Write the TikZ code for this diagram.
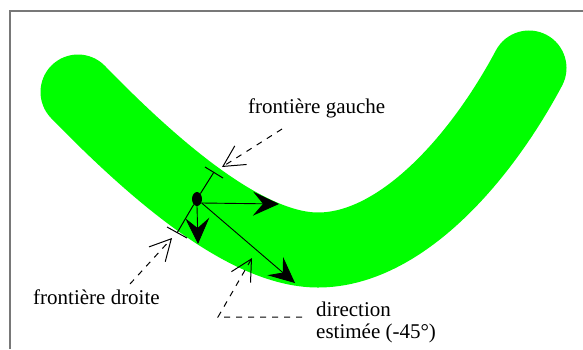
\documentclass[tikz,border=0pt]{standalone}
\usepackage{fontspec}
\setmainfont{Liberation Serif}
\usetikzlibrary{arrows.meta,shapes.geometric}
\definecolor{bandgreen}{RGB}{0,255,0}
\definecolor{framegray}{RGB}{120,120,120}
\begin{document}
\begin{tikzpicture}[x=1pt,y=-1pt,
  lbl/.style={font=\fontsize{21}{22}\selectfont, inner sep=0pt, align=left},
  bigarrow/.style={line width=0.9pt, -{Stealth[length=26pt,width=24pt,inset=10pt]}},
  callout/.style={line width=1pt, dash pattern=on 6pt off 6pt, -{Straight Barb[length=21pt,width=22pt,line width=1pt]}},
  thinline/.style={line width=1pt}]
\path[use as bounding box] (0,0) rectangle (583,349);
% frame
\draw[framegray, line width=1.3pt] (10,349) -- (10,11) -- (583,11);
% green band
\draw[bandgreen, line width=75pt, line cap=round]
  (78,92) .. controls (152,168) and (245,250) .. (318,250)
          .. controls (400,250) and (480,160) .. (529,68);
% dot
\node[ellipse, fill=black, minimum width=10pt, minimum height=14pt, inner sep=0pt] (dot) at (197,199) {};
% boundaries
\coordinate (lb) at (214,172);
\coordinate (rb) at (177,233);
\coordinate (lb1) at (205,167);
\coordinate (lb2) at (223,178);
\coordinate (rb1) at (167,227);
\coordinate (rb2) at (187,238);
\draw[thinline] (dot) -- (lb);
\draw[thinline] (dot) -- (rb);
\draw[thinline] (lb1) -- (lb2);
\draw[thinline] (rb1) -- (rb2);
% arrows
\coordinate (ha) at (279,204);
\coordinate (da) at (198,244);
\coordinate (ga) at (295,283);
\draw[bigarrow] (dot.east |- 0,203) -- (ha);
\draw[bigarrow] (dot.south) -- (da);
\draw[bigarrow] (dot) -- (ga);
% labels
\node[lbl, anchor=base west] (tg) at (248,113) {frontière gauche};
\node[lbl, anchor=base west] (td) at (33,304) {frontière droite};
\node[lbl, anchor=base west] (tdir) at (316,338) {direction\\estimée (-45°)};
% callouts
\coordinate (gs) at (282,129);
\coordinate (gt) at (222,167);
\draw[callout] (gs) -- (gt);
\coordinate (ds) at (130,284);
\coordinate (dt) at (172,238);
\draw[callout] (ds) -- (dt);
\coordinate (cs) at (302,317);
\coordinate (cm) at (218,317);
\coordinate (ct) at (252,258);
\draw[callout] (cs) -- (cm) -- (ct);
\end{tikzpicture}
\end{document}
